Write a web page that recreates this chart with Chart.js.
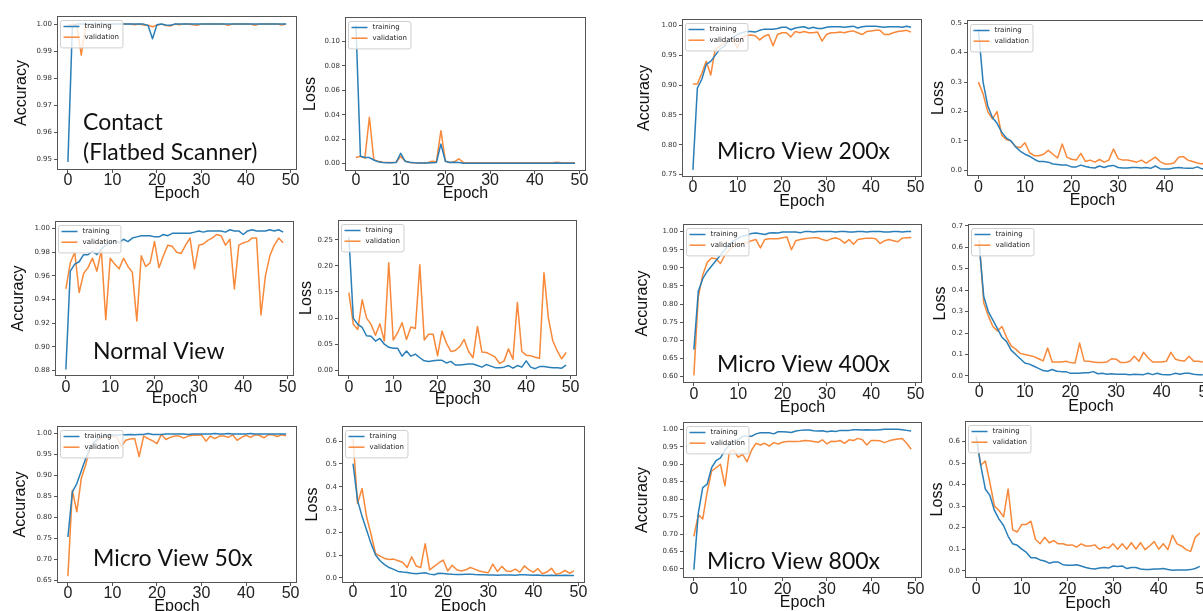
<!DOCTYPE html>
<html>
<head>
<meta charset="utf-8">
<script src="https://cdn.jsdelivr.net/npm/chart.js@4/dist/chart.umd.min.js"></script>
<style>
  html, body { margin: 0; padding: 0; background: #fff; }
  body { width: 1203px; height: 611px; overflow: hidden; position: relative; }
  .panel { position: absolute; overflow: hidden; }
  .panel canvas { position: absolute; left: 0; top: 0; }
</style>
</head>
<body>
<script>
// --- DATA ---

const epochs = [0, 1, 2, 3, 4, 5, 6, 7, 8, 9, 10, 11, 12, 13, 14, 15, 16, 17, 18, 19,
  20, 21, 22, 23, 24, 25, 26, 27, 28, 29, 30, 31, 32, 33, 34, 35, 36, 37, 38, 39,
  40, 41, 42, 43, 44, 45, 46, 47, 48, 49];
const epochTicks = [0, 10, 20, 30, 40, 50];

// contact (flatbed scanner)
const contactAccTrain = [0.949, 0.999, 1.000, 1.000, 1.000, 1.000, 1.000, 1.000, 1.000, 1.000,
  1.000, 1.000, 1.000, 1.000, 1.000, 1.000, 1.000, 1.000, 0.9995, 0.9946,
  0.9998, 1.000, 0.9997, 0.9996, 1.000, 1.000, 1.000, 1.000, 1.000, 1.000,
  1.000, 1.000, 1.000, 1.000, 1.000, 1.000, 1.000, 1.000, 1.000, 1.000,
  1.000, 1.000, 1.000, 1.000, 1.000, 1.000, 1.000, 1.000, 1.000, 1.000];
const contactAccVal = [0.9995, 1.000, 0.9996, 0.9885, 0.9998, 1.000, 0.9998, 1.000, 1.000, 0.9998,
  1.000, 1.000, 1.000, 1.000, 1.000, 0.9998, 1.000, 0.9997, 0.9996, 0.9990,
  0.9996, 1.000, 0.9995, 0.9993, 1.000, 0.9998, 1.000, 1.000, 0.9998, 0.9996,
  1.000, 1.000, 1.000, 1.000, 1.000, 1.000, 0.9996, 1.000, 1.000, 1.000,
  1.000, 1.000, 0.9996, 1.000, 1.000, 1.000, 1.000, 1.000, 0.9997, 1.000];
const contactLossTrain = [0.113, 0.006, 0.005, 0.005, 0.003, 0.0015, 0.001, 0.0008, 0.0008, 0.001,
  0.0085, 0.002, 0.0012, 0.0008, 0.0005, 0.0005, 0.0005, 0.0008, 0.001, 0.016,
  0.002, 0.001, 0.0012, 0.001, 0.0003, 0.0003, 0.0003, 0.0003, 0.0003, 0.0003,
  0.0003, 0.0003, 0.0003, 0.0003, 0.0003, 0.0003, 0.0003, 0.0003, 0.0003, 0.0003,
  0.0003, 0.0003, 0.0003, 0.0003, 0.0003, 0.0005, 0.0003, 0.0003, 0.0003, 0.0003];
const contactLossVal = [0.005, 0.006, 0.0045, 0.038, 0.003, 0.002, 0.0012, 0.001, 0.001, 0.0012,
  0.006, 0.002, 0.001, 0.0008, 0.0006, 0.0006, 0.0008, 0.002, 0.0015, 0.027,
  0.002, 0.001, 0.0015, 0.004, 0.001, 0.0008, 0.0008, 0.0008, 0.0008, 0.0008,
  0.0008, 0.0008, 0.0008, 0.0008, 0.0008, 0.0008, 0.0008, 0.0008, 0.0008, 0.0008,
  0.0008, 0.0008, 0.0008, 0.0008, 0.0008, 0.0012, 0.0008, 0.0008, 0.0008, 0.0008];

// normal view
const normalAccTrain = [0.881, 0.964, 0.970, 0.972, 0.978, 0.978, 0.981, 0.978, 0.983, 0.986,
  0.988, 0.990, 0.988, 0.991, 0.989, 0.992, 0.993, 0.994, 0.994, 0.994,
  0.993, 0.993, 0.995, 0.994, 0.996, 0.996, 0.996, 0.996, 0.996, 0.997,
  0.998, 0.997, 0.998, 0.998, 0.998, 0.998, 0.997, 0.999, 0.998, 0.998,
  0.995, 0.998, 0.999, 0.998, 0.998, 0.998, 0.999, 0.998, 0.999, 0.997];
const normalAccVal = [0.949, 0.971, 0.980, 0.946, 0.962, 0.967, 0.975, 0.964, 0.982, 0.923,
  0.975, 0.970, 0.966, 0.975, 0.968, 0.963, 0.922, 0.977, 0.968, 0.971,
  0.989, 0.967, 0.977, 0.986, 0.985, 0.980, 0.979, 0.986, 0.992, 0.966,
  0.986, 0.987, 0.990, 0.992, 0.995, 0.994, 0.986, 0.991, 0.949, 0.986,
  0.988, 0.989, 0.992, 0.992, 0.927, 0.960, 0.977, 0.986, 0.992, 0.988];
const normalLossTrain = [0.256, 0.100, 0.088, 0.082, 0.066, 0.065, 0.056, 0.061, 0.050, 0.044,
  0.042, 0.042, 0.027, 0.037, 0.027, 0.031, 0.024, 0.018, 0.017, 0.018,
  0.019, 0.019, 0.014, 0.017, 0.010, 0.010, 0.011, 0.012, 0.012, 0.009,
  0.006, 0.011, 0.008, 0.005, 0.005, 0.006, 0.009, 0.004, 0.009, 0.006,
  0.018, 0.006, 0.003, 0.007, 0.007, 0.006, 0.005, 0.005, 0.004, 0.010];
const normalLossVal = [0.149, 0.088, 0.078, 0.135, 0.100, 0.088, 0.067, 0.089, 0.056, 0.206,
  0.058, 0.072, 0.091, 0.059, 0.083, 0.080, 0.202, 0.058, 0.069, 0.069,
  0.028, 0.075, 0.052, 0.036, 0.038, 0.045, 0.059, 0.036, 0.024, 0.084,
  0.035, 0.034, 0.030, 0.025, 0.013, 0.018, 0.041, 0.021, 0.130, 0.036,
  0.029, 0.028, 0.025, 0.023, 0.187, 0.100, 0.056, 0.037, 0.022, 0.034];

// micro view 50x
const micro50AccTrain = [0.753, 0.860, 0.880, 0.910, 0.940, 0.965, 0.980, 0.990, 0.993, 0.995,
  0.996, 0.995, 0.996, 0.996, 0.997, 0.996, 0.997, 0.997, 0.999, 0.997,
  0.997, 0.997, 0.998, 0.998, 0.998, 0.998, 0.998, 0.997, 0.998, 0.998,
  0.998, 0.998, 0.998, 0.999, 0.998, 0.998, 0.999, 0.998, 0.998, 0.998,
  0.998, 0.999, 0.998, 0.998, 0.998, 0.998, 0.998, 0.998, 0.998, 0.998];
const micro50AccVal = [0.660, 0.864, 0.813, 0.892, 0.925, 0.965, 0.980, 0.985, 0.990, 0.990,
  0.993, 0.990, 0.969, 0.983, 0.986, 0.987, 0.944, 0.993, 0.987, 0.982,
  0.975, 0.997, 0.985, 0.990, 0.993, 0.993, 0.988, 0.993, 0.995, 0.995,
  0.996, 0.981, 0.993, 0.987, 0.993, 0.993, 0.990, 0.996, 0.983, 0.990,
  0.995, 0.990, 0.996, 0.995, 0.989, 0.996, 0.996, 0.992, 0.996, 0.994];
const micro50LossTrain = [0.502, 0.340, 0.270, 0.210, 0.150, 0.100, 0.075, 0.058, 0.045, 0.037,
  0.028, 0.025, 0.023, 0.020, 0.018, 0.020, 0.022, 0.016, 0.013, 0.020,
  0.019, 0.017, 0.015, 0.014, 0.014, 0.015, 0.016, 0.014, 0.013, 0.013,
  0.012, 0.012, 0.011, 0.012, 0.012, 0.012, 0.011, 0.013, 0.013, 0.012,
  0.011, 0.012, 0.010, 0.010, 0.011, 0.010, 0.010, 0.011, 0.010, 0.010];
const micro50LossVal = [0.612, 0.326, 0.392, 0.268, 0.190, 0.107, 0.095, 0.085, 0.080, 0.082,
  0.075, 0.068, 0.045, 0.092, 0.052, 0.045, 0.150, 0.035, 0.050, 0.065,
  0.078, 0.030, 0.055, 0.035, 0.030, 0.035, 0.045, 0.038, 0.030, 0.025,
  0.022, 0.060, 0.028, 0.050, 0.030, 0.028, 0.038, 0.025, 0.052, 0.035,
  0.025, 0.040, 0.018, 0.025, 0.042, 0.015, 0.020, 0.032, 0.020, 0.030];

// micro view 200x
const micro200AccTrain = [0.758, 0.895, 0.910, 0.935, 0.940, 0.950, 0.960, 0.965, 0.975, 0.980,
  0.985, 0.988, 0.990, 0.990, 0.989, 0.992, 0.994, 0.994, 0.994, 0.995,
  0.997, 0.997, 0.993, 0.996, 0.997, 0.998, 0.995, 0.997, 0.995, 0.995,
  0.997, 0.998, 0.998, 0.998, 0.997, 0.998, 0.999, 0.996, 0.998, 0.999,
  0.999, 0.999, 0.998, 0.997, 0.998, 0.998, 0.998, 0.997, 0.999, 0.997];
const micro200AccVal = [0.902, 0.902, 0.920, 0.940, 0.917, 0.960, 0.965, 0.970, 0.975, 0.978,
  0.962, 0.980, 0.983, 0.984, 0.983, 0.976, 0.982, 0.985, 0.966, 0.985,
  0.988, 0.988, 0.981, 0.990, 0.988, 0.990, 0.988, 0.988, 0.989, 0.974,
  0.985, 0.988, 0.988, 0.989, 0.988, 0.990, 0.991, 0.988, 0.985, 0.990,
  0.991, 0.992, 0.992, 0.985, 0.985, 0.988, 0.990, 0.991, 0.992, 0.989];
const micro200LossTrain = [0.480, 0.300, 0.220, 0.180, 0.160, 0.130, 0.110, 0.100, 0.080, 0.065,
  0.055, 0.048, 0.038, 0.030, 0.030, 0.028, 0.022, 0.020, 0.018, 0.018,
  0.012, 0.012, 0.018, 0.013, 0.010, 0.008, 0.015, 0.010, 0.015, 0.017,
  0.010, 0.008, 0.008, 0.010, 0.010, 0.008, 0.010, 0.007, 0.015, 0.006,
  0.005, 0.005, 0.008, 0.010, 0.008, 0.007, 0.007, 0.012, 0.005, 0.009];
const micro200LossVal = [0.300, 0.260, 0.200, 0.175, 0.200, 0.120, 0.105, 0.100, 0.080, 0.078,
  0.094, 0.060, 0.050, 0.050, 0.055, 0.068, 0.055, 0.042, 0.090, 0.045,
  0.038, 0.035, 0.058, 0.030, 0.035, 0.028, 0.037, 0.028, 0.035, 0.073,
  0.040, 0.035, 0.035, 0.032, 0.028, 0.035, 0.025, 0.035, 0.045, 0.030,
  0.022, 0.022, 0.025, 0.045, 0.047, 0.035, 0.030, 0.025, 0.022, 0.030];

// micro view 400x
const micro400AccTrain = [0.674, 0.835, 0.870, 0.890, 0.905, 0.920, 0.935, 0.950, 0.965, 0.975,
  0.982, 0.988, 0.990, 0.995, 0.996, 0.994, 0.992, 0.996, 0.997, 0.996,
  0.999, 0.999, 0.999, 0.999, 0.997, 1.000, 1.000, 0.999, 1.000, 1.000,
  1.000, 1.000, 0.999, 1.000, 1.000, 0.999, 0.999, 1.000, 1.000, 0.999,
  1.000, 1.000, 1.000, 0.999, 0.999, 1.000, 1.000, 0.999, 1.000, 1.000];
const micro400AccVal = [0.603, 0.820, 0.880, 0.915, 0.927, 0.925, 0.912, 0.935, 0.950, 0.960,
  0.965, 0.968, 0.970, 0.975, 0.978, 0.955, 0.978, 0.980, 0.980, 0.980,
  0.983, 0.985, 0.950, 0.975, 0.978, 0.980, 0.982, 0.983, 0.983, 0.978,
  0.975, 0.980, 0.983, 0.978, 0.968, 0.978, 0.965, 0.978, 0.980, 0.982,
  0.982, 0.980, 0.967, 0.975, 0.978, 0.975, 0.972, 0.982, 0.983, 0.984];
const micro400LossTrain = [0.610, 0.370, 0.300, 0.260, 0.220, 0.180, 0.160, 0.120, 0.100, 0.080,
  0.060, 0.055, 0.045, 0.035, 0.025, 0.022, 0.030, 0.022, 0.020, 0.020,
  0.012, 0.012, 0.012, 0.015, 0.015, 0.020, 0.010, 0.012, 0.008, 0.010,
  0.008, 0.008, 0.008, 0.006, 0.008, 0.007, 0.006, 0.012, 0.006, 0.012,
  0.007, 0.006, 0.006, 0.012, 0.008, 0.012, 0.012, 0.008, 0.006, 0.006];
const micro400LossVal = [0.635, 0.340, 0.280, 0.230, 0.210, 0.230, 0.180, 0.140, 0.125, 0.105,
  0.100, 0.095, 0.090, 0.080, 0.070, 0.130, 0.065, 0.065, 0.065, 0.068,
  0.062, 0.060, 0.153, 0.070, 0.068, 0.065, 0.062, 0.062, 0.065, 0.080,
  0.078, 0.062, 0.062, 0.068, 0.092, 0.068, 0.110, 0.085, 0.065, 0.065,
  0.065, 0.068, 0.110, 0.078, 0.072, 0.070, 0.092, 0.068, 0.068, 0.065];

// micro view 800x
const micro800AccTrain = [0.598, 0.760, 0.833, 0.843, 0.890, 0.910, 0.918, 0.940, 0.955, 0.965,
  0.970, 0.980, 0.980, 0.980, 0.987, 0.990, 0.990, 0.990, 0.987, 0.993,
  0.993, 0.992, 0.991, 0.995, 0.997, 0.998, 0.998, 0.996, 0.995, 0.996,
  0.993, 0.995, 0.994, 0.997, 0.997, 0.997, 0.999, 0.999, 0.998, 0.999,
  0.998, 0.998, 0.999, 1.000, 1.000, 1.000, 1.000, 0.999, 0.997, 0.995];
const micro800AccVal = [0.693, 0.755, 0.743, 0.820, 0.880, 0.890, 0.900, 0.838, 0.935, 0.940,
  0.920, 0.928, 0.907, 0.940, 0.960, 0.955, 0.960, 0.952, 0.962, 0.958,
  0.963, 0.965, 0.965, 0.965, 0.966, 0.968, 0.967, 0.965, 0.963, 0.970,
  0.958, 0.966, 0.965, 0.968, 0.960, 0.970, 0.968, 0.974, 0.970, 0.955,
  0.968, 0.968, 0.967, 0.962, 0.967, 0.970, 0.972, 0.974, 0.960, 0.943];
const micro800LossTrain = [0.620, 0.490, 0.380, 0.350, 0.280, 0.240, 0.210, 0.160, 0.125, 0.118,
  0.100, 0.085, 0.060, 0.060, 0.050, 0.045, 0.035, 0.040, 0.040, 0.028,
  0.025, 0.025, 0.028, 0.022, 0.015, 0.010, 0.008, 0.012, 0.015, 0.012,
  0.022, 0.020, 0.022, 0.010, 0.015, 0.015, 0.008, 0.005, 0.005, 0.008,
  0.008, 0.010, 0.006, 0.002, 0.003, 0.003, 0.003, 0.005, 0.010, 0.020];
const micro800LossVal = [0.628, 0.490, 0.510, 0.410, 0.300, 0.280, 0.250, 0.380, 0.190, 0.180,
  0.215, 0.215, 0.230, 0.145, 0.125, 0.155, 0.130, 0.140, 0.125, 0.125,
  0.118, 0.120, 0.110, 0.125, 0.115, 0.115, 0.120, 0.100, 0.110, 0.105,
  0.125, 0.100, 0.125, 0.100, 0.130, 0.100, 0.130, 0.098, 0.115, 0.135,
  0.100, 0.125, 0.098, 0.165, 0.125, 0.115, 0.098, 0.090, 0.155, 0.175];

// y tick labels
const accTicksContact = [0.95, 0.96, 0.97, 0.98, 0.99, 1.00];
const accTicksNormal = [0.88, 0.90, 0.92, 0.94, 0.96, 0.98, 1.00];
const accTicks50 = [0.65, 0.70, 0.75, 0.80, 0.85, 0.90, 0.95, 1.00];
const accTicks200 = [0.75, 0.80, 0.85, 0.90, 0.95, 1.00];
const accTicks400 = [0.60, 0.65, 0.70, 0.75, 0.80, 0.85, 0.90, 0.95, 1.00];
const accTicks800 = [0.60, 0.65, 0.70, 0.75, 0.80, 0.85, 0.90, 0.95, 1.00];
const lossTicksContact = [0.00, 0.02, 0.04, 0.06, 0.08, 0.10];
const lossTicksNormal = [0.00, 0.05, 0.10, 0.15, 0.20, 0.25];
const lossTicks50 = [0.0, 0.1, 0.2, 0.3, 0.4, 0.5, 0.6];
const lossTicks200 = [0.0, 0.1, 0.2, 0.3, 0.4, 0.5];
const lossTicks400 = [0.0, 0.1, 0.2, 0.3, 0.4, 0.5, 0.6, 0.7];
const lossTicks800 = [0.0, 0.1, 0.2, 0.3, 0.4, 0.5, 0.6];

// --- LAYOUT ---

const BLUE = "#2a7fb8";
const ORANGE = "#f8893a";
const SANS = "'Liberation Sans', Arial, sans-serif";
const SMALL = "'DejaVu Sans', sans-serif";
const PL = 62, PT = 8, PR = 14, PB = 42; // room round the plot box inside each canvas
const TL = 3; //                           tick mark length

const panels = [
  { box: [57, 16, 297, 170], yMin: 0.946, yMax: 1.003, yTicks: accTicksContact, dec: 2,
    yTitle: "Accuracy", yLabelX: 22, xTickY: 181, xLabelY: 194,
    train: contactAccTrain, val: contactAccVal,
    note: { x: 83, y: [130, 160], lines: ["Contact", "(Flatbed Scanner)"] } },
  { box: [345, 17, 586, 171], yMin: -0.006, yMax: 0.12, yTicks: lossTicksContact, dec: 2,
    yTitle: "Loss", yLabelX: 311, xTickY: 181, xLabelY: 194,
    train: contactLossTrain, val: contactLossVal },
  { box: [55, 221, 294, 376], yMin: 0.8755, yMax: 1.0064, yTicks: accTicksNormal, dec: 2,
    yTitle: "Accuracy", yLabelX: 19, xTickY: 388, xLabelY: 399,
    train: normalAccTrain, val: normalAccVal,
    note: { x: 93, y: [359], lines: ["Normal View"] } },
  { box: [338, 220, 577, 376], yMin: -0.011, yMax: 0.288, yTicks: lossTicksNormal, dec: 2,
    yTitle: "Loss", yLabelX: 307, xTickY: 388, xLabelY: 400,
    train: normalLossTrain, val: normalLossVal },
  { box: [57, 426, 297, 583], yMin: 0.6436, yMax: 1.017, yTicks: accTicks50, dec: 2,
    yTitle: "Accuracy", yLabelX: 21, xTickY: 594, xLabelY: 607,
    train: micro50AccTrain, val: micro50AccVal,
    note: { x: 93, y: [566], lines: ["Micro View 50x"] } },
  { box: [342, 426, 585, 583], yMin: -0.023, yMax: 0.667, yTicks: lossTicks50, dec: 1,
    yTitle: "Loss", yLabelX: 313, xTickY: 593, xLabelY: 607,
    train: micro50LossTrain, val: micro50LossVal },
  { box: [682, 19, 922, 177], yMin: 0.746, yMax: 1.011, yTicks: accTicks200, dec: 2,
    yTitle: "Accuracy", yLabelX: 645, xTickY: 188, xLabelY: 202, clip: 924,
    train: micro200AccTrain, val: micro200AccVal,
    note: { x: 717, y: [159], lines: ["Micro View 200x"] } },
  { box: [967, 20, 1218, 176], yMin: -0.019, yMax: 0.511, yTicks: lossTicks200, dec: 1,
    yTitle: "Loss", yLabelX: 939, xTickY: 188, xLabelY: 201,
    train: micro200LossTrain, val: micro200LossVal },
  { box: [683, 224, 922, 383], yMin: 0.582, yMax: 1.021, yTicks: accTicks400, dec: 2,
    yTitle: "Accuracy", yLabelX: 643, xTickY: 395, xLabelY: 408, clip: 924,
    train: micro400AccTrain, val: micro400AccVal,
    note: { x: 717, y: [372], lines: ["Micro View 400x"] } },
  { box: [968, 224, 1214, 383], yMin: -0.033, yMax: 0.708, yTicks: lossTicks400, dec: 1,
    yTitle: "Loss", yLabelX: 941, xTickY: 393, xLabelY: 407,
    train: micro400LossTrain, val: micro400LossVal },
  { box: [683, 422, 922, 578], yMin: 0.574, yMax: 1.021, yTicks: accTicks800, dec: 2,
    yTitle: "Accuracy", yLabelX: 643, xTickY: 590, xLabelY: 603, clip: 924,
    train: micro800AccTrain, val: micro800AccVal,
    note: { x: 707, y: [569], lines: ["Micro View 800x"] } },
  { box: [965, 421, 1211, 578], yMin: -0.034, yMax: 0.696, yTicks: lossTicks800, dec: 1,
    yTitle: "Loss", yLabelX: 938, xTickY: 590, xLabelY: 604,
    train: micro800LossTrain, val: micro800LossVal },
];

// box round the plot area (all four spines)
const framePlugin = {
  id: "frame",
  afterDatasetsDraw(chart) {
    const { ctx, chartArea: a } = chart;
    ctx.save();
    ctx.strokeStyle = "#555";
    ctx.lineWidth = 1;
    ctx.strokeRect(Math.round(a.left) + 0.5, Math.round(a.top) + 0.5,
      Math.round(a.right - a.left) - 1, Math.round(a.bottom - a.top) - 1);
    ctx.restore();
  },
};

// matplotlib style legend in the upper left corner, above the lines
const legendPlugin = {
  id: "boxLegend",
  afterDatasetsDraw(chart) {
    const { ctx, chartArea: a } = chart;
    const sets = chart.data.datasets;
    ctx.save();
    ctx.font = "7px " + SMALL;
    const tw = Math.max(...sets.map((d) => ctx.measureText(d.label).width));
    const x0 = Math.round(a.left + 2.5) + 0.5;
    const y0 = Math.round(a.top + 4) + 0.5;
    const w = 24 + tw + 4;
    const h = 6 + 10.7 * sets.length;
    ctx.beginPath();
    ctx.roundRect(x0, y0, w, h, 2);
    ctx.fillStyle = "rgba(255,255,255,0.8)";
    ctx.fill();
    ctx.strokeStyle = "#cfcfcf";
    ctx.lineWidth = 1;
    ctx.stroke();
    sets.forEach((d, i) => {
      const y = y0 + 6 + i * 10.7;
      ctx.beginPath();
      ctx.moveTo(x0 + 3, y);
      ctx.lineTo(x0 + 19, y);
      ctx.strokeStyle = d.borderColor;
      ctx.lineWidth = 1.5;
      ctx.stroke();
      ctx.fillStyle = "#222";
      ctx.textBaseline = "middle";
      ctx.fillText(d.label, x0 + 24, y);
    });
    ctx.restore();
  },
};

function makePanel(p) {
  const w = p.box[2] - p.box[0];
  const h = p.box[3] - p.box[1];
  const cl = p.box[0] - PL;
  const ct = p.box[1] - PT;
  const cw = w + PL + PR;
  const ch = h + PT + PB;

  const div = document.createElement("div");
  div.className = "panel";
  div.style.left = cl + "px";
  div.style.top = ct + "px";
  div.style.width = (p.clip ? Math.min(cw, p.clip - cl) : cw) + "px";
  div.style.height = ch + "px";
  const canvas = document.createElement("canvas");
  canvas.width = cw;
  canvas.height = ch;
  div.appendChild(canvas);
  document.body.appendChild(div);

  // big caption inside the plot
  const notePlugin = {
    id: "note",
    afterDraw(chart) {
      if (!p.note) return;
      const ctx = chart.ctx;
      ctx.save();
      ctx.font = "23px Lato, 'Open Sans', sans-serif";
      ctx.fillStyle = "#111";
      ctx.textBaseline = "alphabetic";
      p.note.lines.forEach((t, i) => ctx.fillText(t, p.note.x - cl, p.note.y[i] - ct));
      ctx.restore();
    },
  };

  new Chart(canvas, {
    type: "line",
    data: {
      labels: epochs,
      datasets: [
        { label: "training", data: p.train, borderColor: BLUE, backgroundColor: BLUE },
        { label: "validation", data: p.val, borderColor: ORANGE, backgroundColor: ORANGE },
      ],
    },
    options: {
      responsive: false,
      animation: false,
      devicePixelRatio: 1,
      layout: { padding: { left: 0, top: PT, right: PR, bottom: 0 } },
      elements: {
        line: { borderWidth: 1.5, tension: 0, borderJoinStyle: "round" },
        point: { radius: 0 },
      },
      plugins: { legend: { display: false }, tooltip: { enabled: false } },
      scales: {
        x: {
          type: "linear",
          min: -2.45,
          max: 51.45,
          afterBuildTicks: (s) => { s.ticks = epochTicks.map((v) => ({ value: v })); },
          afterFit: (s) => { s.height = PB; },
          ticks: {
            font: { family: SANS, size: 16, lineHeight: 1 },
            color: "#222",
            padding: p.xTickY - (PT + h + ct) - TL - 8,
            maxRotation: 0,
            callback: (v) => String(v),
          },
          grid: { drawOnChartArea: false, drawTicks: true, tickLength: TL, tickColor: "#555" },
          border: { display: false },
          title: {
            display: true,
            text: "Epoch",
            color: "#111",
            font: { family: SANS, size: 16, lineHeight: 1 },
            padding: { top: 0, bottom: ch - (p.xLabelY - ct) - 8 },
          },
        },
        y: {
          type: "linear",
          min: p.yMin,
          max: p.yMax,
          afterBuildTicks: (s) => { s.ticks = p.yTicks.map((v) => ({ value: v })); },
          afterFit: (s) => { s.width = PL; },
          ticks: {
            font: { family: SMALL, size: 7 },
            color: "#333",
            padding: 2,
            callback: (v) => v.toFixed(p.dec),
          },
          grid: { drawOnChartArea: false, drawTicks: true, tickLength: TL, tickColor: "#555" },
          border: { display: false },
          title: {
            display: true,
            text: p.yTitle,
            color: "#111",
            font: { family: SANS, size: 16, lineHeight: 1 },
            padding: { top: p.yLabelX - cl - 8, bottom: 0 },
          },
        },
      },
    },
    plugins: [framePlugin, legendPlugin, notePlugin],
  });
}

panels.forEach(makePanel);
</script>
</body>
</html>
